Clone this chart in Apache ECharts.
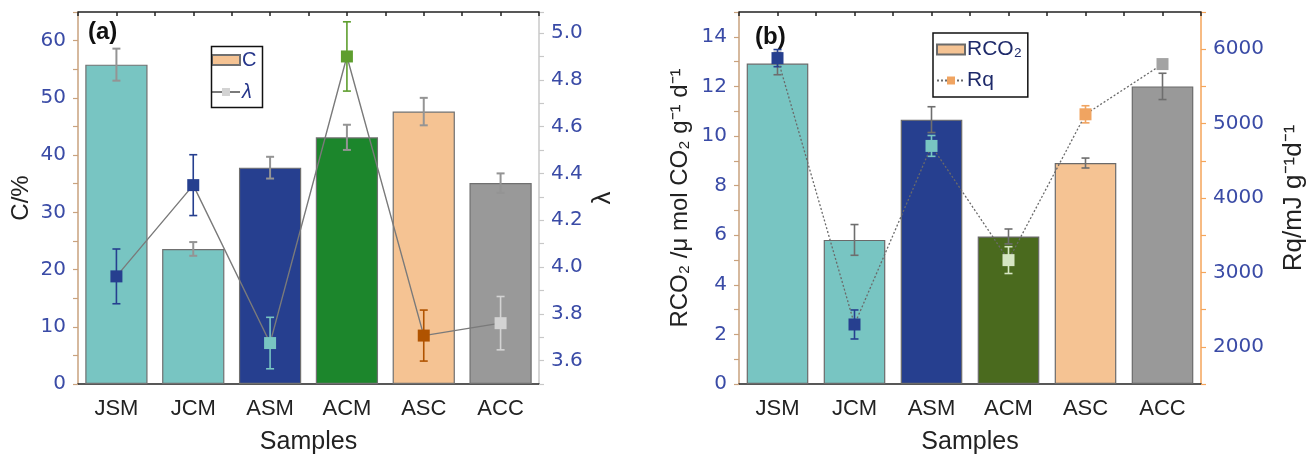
<!DOCTYPE html>
<html>
<head>
<meta charset="utf-8">
<script src="https://cdn.jsdelivr.net/npm/echarts@6/dist/echarts.min.js"></script>
<style>
html,body{margin:0;padding:0;background:#fff;}
#chart{width:1316px;height:459px;}
</style>
</head>
<body>
<div id="chart"></div>
<script>
// ---------- data ----------
const categories = ['JSM', 'JCM', 'ASM', 'ACM', 'ASC', 'ACC'];
const cValues = [55.8, 23.6, 37.8, 43.1, 47.6, 35.1];
const cErr = [2.8, 1.2, 1.9, 2.2, 2.4, 1.7];
const lambdaValues = [3.96, 4.35, 3.675, 4.90, 3.707, 3.76];
const lambdaErr = [0.117, 0.13, 0.11, 0.148, 0.109, 0.114];
const rco2Values = [12.92, 5.81, 10.66, 5.95, 8.91, 12.0];
const rco2Err = [0.45, 0.62, 0.52, 0.30, 0.20, 0.53];
const rqValues = [5880, 2300, 4700, 3165, 5125, 5800];
const rqErr = [115, 195, 140, 180, 115, 0];
const cTickLabels = [0, 10, 20, 30, 40, 50, 60];
const lambdaTickLabels = ['3.6', '3.8', '4.0', '4.2', '4.4', '4.6', '4.8', '5.0'];
const rco2TickLabels = [0, 2, 4, 6, 8, 10, 12, 14];
const rqTickLabels = [2000, 3000, 4000, 5000, 6000];

// ---------- styles ----------
const barColorsA = ['#78C5C2', '#78C5C2', '#263F8F', '#1C862C', '#F5C393', '#999999'];
const lambdaColors = ['#263F8F', '#263F8F', '#78C5C2', '#5E9E2E', '#B05300', '#D3D3D3'];
const barColorsB = ['#78C5C2', '#78C5C2', '#263F8F', '#4A6A1E', '#F5C393', '#999999'];
const rqColors = ['#263F8F', '#263F8F', '#78C5C2', '#D6E6C3', '#F0A461', '#A3A3A3'];
const tickBlue = '#3A4BA6';
const txtFont = 'Liberation Sans, Arial, sans-serif';
const numFont = 'DejaVu Sans, sans-serif';

function errRender(colors, capHalf, lw) {
  return function (params, api) {
    const i = api.value(0), v = api.value(1), e = api.value(2);
    const top = api.coord([i, v + e]);
    const bot = api.coord([i, v - e]);
    const st = { stroke: colors[params.dataIndex], lineWidth: lw };
    return {
      type: 'group',
      children: [
        { type: 'line', shape: { x1: top[0], y1: top[1], x2: bot[0], y2: bot[1] }, style: st },
        { type: 'line', shape: { x1: top[0] - capHalf, y1: top[1], x2: top[0] + capHalf, y2: top[1] }, style: st },
        { type: 'line', shape: { x1: bot[0] - capHalf, y1: bot[1], x2: bot[0] + capHalf, y2: bot[1] }, style: st }
      ]
    };
  };
}

function xAxesFor(gi) {
  return [
    {
      type: 'category', gridIndex: gi, position: 'bottom', data: categories,
      axisLine: { onZero: false, lineStyle: { color: '#222', width: 1.5 } },
      axisTick: { alignWithLabel: true, length: 7, lineStyle: { color: '#222', width: 1.5 } },
      axisLabel: { fontSize: 22, color: '#222', margin: 14, fontFamily: txtFont },
      name: 'Samples', nameLocation: 'middle', nameGap: 46,
      nameTextStyle: { fontSize: 25, color: '#222', fontFamily: txtFont }
    },
    {
      type: 'category', gridIndex: gi, position: 'bottom', data: categories,
      axisLine: { show: false, onZero: false },
      axisTick: { length: 3, lineStyle: { color: '#222', width: 1.5 } },
      axisLabel: { show: false }
    },
    {
      type: 'value', gridIndex: gi, position: 'top', min: -0.5, max: 5.5, interval: 0.5,
      axisLine: { onZero: false, lineStyle: { color: '#222', width: 1.5 } },
      axisTick: { inside: true, length: 4, lineStyle: { color: '#222', width: 1.5 } },
      axisLabel: { show: false }, splitLine: { show: false }
    }
  ];
}

const option = {
  animation: false,
  backgroundColor: '#fff',
  grid: [
    { left: 78, right: 777, top: 12, bottom: 75, outerBoundsMode: 'none' },
    { left: 739, right: 115, top: 12, bottom: 75, outerBoundsMode: 'none' }
  ],
  xAxis: xAxesFor(0).concat(xAxesFor(1)),
  yAxis: [
    {
      type: 'value', gridIndex: 0, position: 'left', min: 0, max: 65, interval: 5,
      axisLine: { show: true, onZero: false, lineStyle: { color: '#C9A27E', width: 1.5 } },
      axisTick: { show: true, length: 5, lineStyle: { color: '#C9A27E', width: 1.2 } },
      axisLabel: { fontSize: 20, color: tickBlue, margin: 12, fontFamily: numFont,
        formatter: v => cTickLabels.indexOf(Math.round(v)) >= 0 && Math.abs(v - Math.round(v)) < 1e-6 ? String(Math.round(v)) : '' },
      splitLine: { show: false },
      name: 'C/%', nameLocation: 'middle', nameGap: 45, nameRotate: 90,
      nameTextStyle: { fontSize: 24, color: '#222', fontFamily: txtFont }
    },
    {
      type: 'value', gridIndex: 0, position: 'right', min: 3.5, max: 5.09, interval: 0.1,
      axisLine: { show: true, onZero: false, lineStyle: { color: '#C8C8C8', width: 1.5 } },
      axisTick: { show: true, length: 5, lineStyle: { color: '#C8C8C8', width: 1.2 } },
      axisLabel: { fontSize: 20, color: tickBlue, margin: 12, fontFamily: numFont,
        formatter: v => { const s = v.toFixed(1); return (lambdaTickLabels.indexOf(s) >= 0 && Math.abs(v - parseFloat(s)) < 1e-6) ? s : ''; } },
      splitLine: { show: false },
      name: 'λ', nameLocation: 'middle', nameGap: 51, nameRotate: 90,
      nameTextStyle: { fontSize: 26, color: '#222', fontFamily: txtFont }
    },
    {
      type: 'value', gridIndex: 1, position: 'left', min: 0, max: 15, interval: 1,
      axisLine: { show: true, onZero: false, lineStyle: { color: '#C9A27E', width: 1.5 } },
      axisTick: { show: true, length: 5, lineStyle: { color: '#C9A27E', width: 1.2 } },
      axisLabel: { fontSize: 20, color: tickBlue, margin: 12, fontFamily: numFont,
        formatter: v => rco2TickLabels.indexOf(v) >= 0 ? String(v) : '' },
      splitLine: { show: false },
      name: 'RCO₂ /μ mol CO₂ g⁻¹ d⁻¹', nameLocation: 'middle', nameGap: 47, nameRotate: 90,
      nameTextStyle: { fontSize: 24, color: '#222', fontFamily: txtFont }
    },
    {
      type: 'value', gridIndex: 1, position: 'right', min: 1500, max: 6500, interval: 500,
      axisLine: { show: true, onZero: false, lineStyle: { color: '#F5A55A', width: 1.5 } },
      axisTick: { show: true, length: 5, lineStyle: { color: '#F5A55A', width: 1.2 } },
      axisLabel: { fontSize: 20, color: tickBlue, margin: 12, fontFamily: numFont,
        formatter: v => rqTickLabels.indexOf(v) >= 0 ? String(v) : '' },
      splitLine: { show: false },
      name: 'Rq/mJ g⁻¹d⁻¹', nameLocation: 'middle', nameGap: 80, nameRotate: 90,
      nameTextStyle: { fontSize: 26, color: '#222', fontFamily: txtFont }
    }
  ],
  legend: [
    {
      data: [
        { name: 'C', icon: 'rect' },
        { name: 'λ', textStyle: { fontStyle: 'italic' } }
      ],
      left: 211, top: 50, orient: 'vertical',
      padding: 0, itemGap: 12,
      itemWidth: 28, itemHeight: 10,
      textStyle: { fontSize: 20, color: '#25358A', fontFamily: txtFont, padding: [0, 0, 0, -3] }
    },
    {
      data: [
        { name: 'RCO₂', icon: 'rect' },
        { name: 'Rq' }
      ],
      left: 933, top: 33, orient: 'vertical',
      borderColor: '#111', borderWidth: 1.5, padding: [6, 6, 6, 3], itemGap: 10,
      itemWidth: 28, itemHeight: 10,
      textStyle: { fontSize: 21, color: '#1E2A6A', fontFamily: txtFont, padding: [0, 0, 0, -3] }
    }
  ],
  graphic: [
    { type: 'rect', left: 209, top: 44, shape: { width: 51, height: 61 }, style: { fill: 'none', stroke: '#111', lineWidth: 1.5 }, z: 10 },
    { type: 'text', left: 88, top: 20, style: { text: '(a)', font: 'bold 24px ' + txtFont, fill: '#111' } },
    { type: 'text', left: 755, top: 25, style: { text: '(b)', font: 'bold 24px ' + txtFont, fill: '#111' } }
  ],
  series: [
    {
      name: 'C', type: 'bar', xAxisIndex: 0, yAxisIndex: 0, barWidth: '81%', z: 2,
      itemStyle: { color: '#F5C393', borderColor: '#707070', borderWidth: 1.2 },
      data: cValues.map((v, i) => ({ value: v, itemStyle: { color: barColorsA[i] } }))
    },
    {
      name: 'errC', type: 'custom', xAxisIndex: 0, yAxisIndex: 0, z: 3,
      renderItem: errRender(cValues.map(() => '#949494'), 4, 2),
      encode: { x: 0, y: 1 },
      data: cValues.map((v, i) => [i, v, cErr[i]])
    },
    {
      name: 'errλ', type: 'custom', xAxisIndex: 0, yAxisIndex: 1, z: 4,
      renderItem: errRender(lambdaColors, 4, 1.6),
      encode: { x: 0, y: 1 },
      data: lambdaValues.map((v, i) => [i, v, lambdaErr[i]])
    },
    {
      name: 'λ', type: 'line', xAxisIndex: 0, yAxisIndex: 1, z: 5,
      symbol: 'rect', symbolSize: 12,
      lineStyle: { color: '#7A7A7A', width: 1.4 },
      itemStyle: { color: '#D3D3D3' },
      data: lambdaValues.map((v, i) => ({ value: v, itemStyle: { color: lambdaColors[i] } }))
    },
    {
      name: 'RCO₂', type: 'bar', xAxisIndex: 3, yAxisIndex: 2, barWidth: '80%', z: 2,
      itemStyle: { color: '#F5C393', borderColor: '#6A6A6A', borderWidth: 1.2 },
      data: rco2Values.map((v, i) => ({ value: v, itemStyle: { color: barColorsB[i] } }))
    },
    {
      name: 'errR', type: 'custom', xAxisIndex: 3, yAxisIndex: 2, z: 3,
      renderItem: errRender(rco2Values.map(() => '#6E6E6E'), 4, 1.6),
      encode: { x: 0, y: 1 },
      data: rco2Values.map((v, i) => [i, v, rco2Err[i]])
    },
    {
      name: 'errRq', type: 'custom', xAxisIndex: 3, yAxisIndex: 3, z: 4,
      renderItem: errRender(rqColors, 4, 1.6),
      encode: { x: 0, y: 1 },
      data: rqValues.map((v, i) => [i, v, rqErr[i]])
    },
    {
      name: 'Rq', type: 'line', xAxisIndex: 3, yAxisIndex: 3, z: 5,
      symbol: 'rect', symbolSize: 12,
      lineStyle: { color: '#6A6A6A', width: 1.3, type: [2, 2] },
      itemStyle: { color: '#F0A461' },
      data: rqValues.map((v, i) => ({ value: v, itemStyle: { color: rqColors[i] } }))
    }
  ]
};

const chart = echarts.init(document.getElementById('chart'), null, { renderer: 'canvas' });
chart.setOption(option);
</script>
</body>
</html>
